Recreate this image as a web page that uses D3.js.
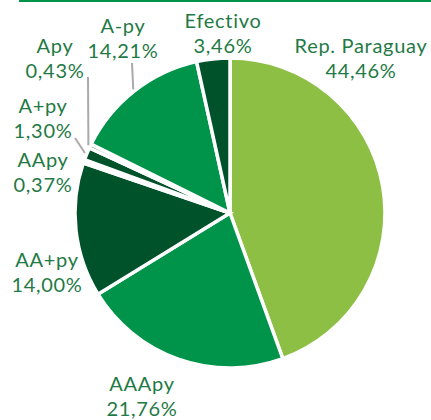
<!DOCTYPE html>
<html>
<head>
<meta charset="utf-8">
<title>Cartera por calificación</title>
<script src="https://cdn.jsdelivr.net/npm/d3@7"></script>
<style>
  body { margin: 0; background: #fff; }
  svg { display: block; }
  .lbl { font-family: Lato, "Open Sans", sans-serif; font-size: 20px; font-weight: 400; letter-spacing: 0.7px; fill: #1f7a45; }
</style>
</head>
<body>
<div id="chart"></div>
<script>
// data (clockwise from 12 o'clock)
var categories = ["Rep. Paraguay", "AAApy", "AA+py", "AApy", "A+py", "Apy", "A-py", "Efectivo"];
var shares = [44.46, 21.76, 14.00, 0.37, 1.30, 0.43, 14.21, 3.46];
var shareLabels = ["44,46%", "21,76%", "14,00%", "0,37%", "1,30%", "0,43%", "14,21%", "3,46%"];

// colours, one per slice
var sliceColors = ["#8dbf45", "#00944a", "#00522b", "#00944a", "#00522b", "#00944a", "#00944a", "#00522b"];

// label anchor (first line baseline) relative to pie centre, and leader ends
var labelPos = [[131, -160], [-88, 178], [-183, 54], [-187, -46], [-187, -100], [-175, -160], [-107, -180], [-7, -185]];
var leaderEnd = [null, null, null, null, [-155, -75], [-142, -136], [-98, -150], null];

var W = 431, H = 420;
var cx = 230, cy = 213, R = 155;

var svg = d3.select("#chart").append("svg")
    .attr("width", W)
    .attr("height", H);

// top rule
svg.append("line")
    .attr("x1", 19).attr("x2", W)
    .attr("y1", 1).attr("y2", 1)
    .attr("stroke", "#00944a")
    .attr("stroke-width", 2);

var g = svg.append("g").attr("transform", "translate(" + cx + "," + cy + ")");

var pie = d3.pie().sort(null).value(function(d) { return d; });
var arcs = pie(shares);

var arc = d3.arc().innerRadius(0).outerRadius(R);
var rim = d3.arc().innerRadius(R + 2).outerRadius(R + 2);

g.selectAll("path.slice")
  .data(arcs)
  .enter()
  .append("path")
    .attr("class", "slice")
    .attr("d", arc)
    .attr("fill", function(d, i) { return sliceColors[i]; })
    .attr("stroke", "#fff")
    .attr("stroke-width", 3.5)
    .attr("stroke-linejoin", "miter");

// leader lines
g.selectAll("line.leader")
  .data(arcs.filter(function(d, i) { return leaderEnd[i]; }))
  .enter()
  .append("line")
    .attr("class", "leader")
    .attr("x1", function(d) { return rim.centroid(d)[0]; })
    .attr("y1", function(d) { return rim.centroid(d)[1]; })
    .attr("x2", function(d) { return leaderEnd[d.index][0]; })
    .attr("y2", function(d) { return leaderEnd[d.index][1]; })
    .attr("stroke", "#aaaaaa")
    .attr("stroke-width", 2);

// labels
var lbl = g.selectAll("text.lbl")
  .data(categories)
  .enter()
  .append("text")
    .attr("class", "lbl")
    .attr("text-anchor", "middle")
    .attr("x", function(d, i) { return labelPos[i][0]; })
    .attr("y", function(d, i) { return labelPos[i][1]; });

lbl.append("tspan")
    .attr("x", function(d, i) { return labelPos[i][0]; })
    .text(function(d) { return d; });
lbl.append("tspan")
    .attr("x", function(d, i) { return labelPos[i][0]; })
    .attr("dy", 24.5)
    .text(function(d, i) { return shareLabels[i]; });
</script>
</body>
</html>
